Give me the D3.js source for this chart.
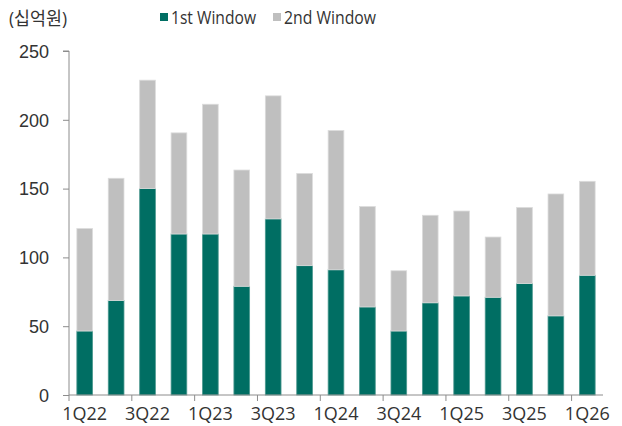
<!DOCTYPE html>
<html>
<head>
<meta charset="utf-8">
<script src="https://cdn.jsdelivr.net/npm/d3@7"></script>
<style>
  html, body { margin: 0; padding: 0; background: #fff; }
  svg { display: block; font-family: "Open Sans", "Noto Sans", "Noto Sans CJK KR", sans-serif; }
</style>
</head>
<body>
<svg id="chart" width="622" height="426"></svg>
<script>
const categories = ["1Q22","2Q22","3Q22","4Q22","1Q23","2Q23","3Q23","4Q23","1Q24","2Q24","3Q24","4Q24","1Q25","2Q25","3Q25","4Q25","1Q26"];
const firstWindow  = [46.5, 68.7, 150, 117, 117, 79, 128, 94, 91, 64, 46.5, 67, 72, 71, 81, 57.5, 87];
const secondWindow = [74.5, 88.8, 78.8, 73.5, 94.3, 84.5, 89.4, 67, 101.2, 73, 43.8, 63.6, 61.7, 43.8, 55.3, 88.6, 68.3];
const seriesNames = ["1st Window", "2nd Window"];
const seriesColors = ["#006e63", "#bfbfbf"];
const yTicks = [0, 50, 100, 150, 200, 250];
const unitLabel = "(십억원)";

const svg = d3.select("#chart");
const margin = { left: 69, right: 19, top: 51, bottom: 31 };
const W = 622, H = 426;

const x = d3.scaleBand().domain(categories).range([margin.left, W - margin.right]).paddingInner(0.5).paddingOuter(0.25);
const y = d3.scaleLinear().domain([0, 250]).range([H - margin.bottom, margin.top]);

const rows = categories.map((c, i) => ({ cat: c, first: firstWindow[i], second: secondWindow[i] }));
const stack = d3.stack().keys(["first", "second"])(rows);

const textColor = "#333333";
const axisColor = "#8c8c8c";

// bars
svg.append("g").selectAll("g").data(stack).join("g")
  .attr("fill", (d, i) => seriesColors[i])
  .attr("stroke", (d, i) => i === 0 ? "#4d9990" : "#dcdcdc")
  .attr("stroke-width", 0.8)
  .selectAll("rect").data(d => d).join("rect")
  .attr("x", d => x(d.data.cat))
  .attr("width", x.bandwidth())
  .attr("y", d => y(d[1]))
  .attr("height", d => y(d[0]) - y(d[1]));

// y axis
const yAxis = svg.append("g").attr("transform", `translate(${margin.left},0)`)
  .call(d3.axisLeft(y).tickValues(yTicks).tickSize(6).tickPadding(14));
yAxis.select(".domain").attr("stroke", axisColor).attr("d", `M-6,${y(250)}H0V${y(0)}`);
yAxis.selectAll(".tick line").attr("stroke", axisColor);
yAxis.selectAll(".tick text").attr("fill", textColor).style("font-size", "18px").attr("dy", "0.35em");

// x axis
const step = x.step();
const xAxisG = svg.append("g").attr("transform", `translate(0,${y(0)})`);
xAxisG.append("line").attr("x1", margin.left).attr("x2", W - margin.right)
  .attr("stroke", axisColor);
const tickCats = categories.filter((c, i) => i % 2 === 0);
xAxisG.selectAll("line.t").data(tickCats).join("line").attr("class", "t")
  .attr("x1", d => x(d) - step * x.paddingOuter())
  .attr("x2", d => x(d) - step * x.paddingOuter())
  .attr("y1", 0).attr("y2", 6).attr("stroke", axisColor);
xAxisG.selectAll("text").data(tickCats).join("text")
  .attr("x", d => x(d) + x.bandwidth() / 2)
  .attr("y", 25)
  .attr("text-anchor", "middle")
  .attr("fill", textColor)
  .style("font-size", "18px")
  .text(d => d);

// unit label
svg.append("text").attr("x", 9).attr("y", 25).attr("fill", textColor).style("font-size", "18px")
  .attr("textLength", 58).attr("lengthAdjust", "spacingAndGlyphs").text(unitLabel);

// legend
const legendX = [160, 273];
const legendW = [85, 92];
seriesNames.forEach((n, i) => {
  svg.append("rect").attr("x", legendX[i]).attr("y", 13).attr("width", 8).attr("height", 8).attr("fill", seriesColors[i]);
  svg.append("text").attr("x", legendX[i] + 11).attr("y", 24).attr("fill", textColor).style("font-size", "19px")
    .attr("textLength", legendW[i]).attr("lengthAdjust", "spacingAndGlyphs").text(n);
});
</script>
</body>
</html>
